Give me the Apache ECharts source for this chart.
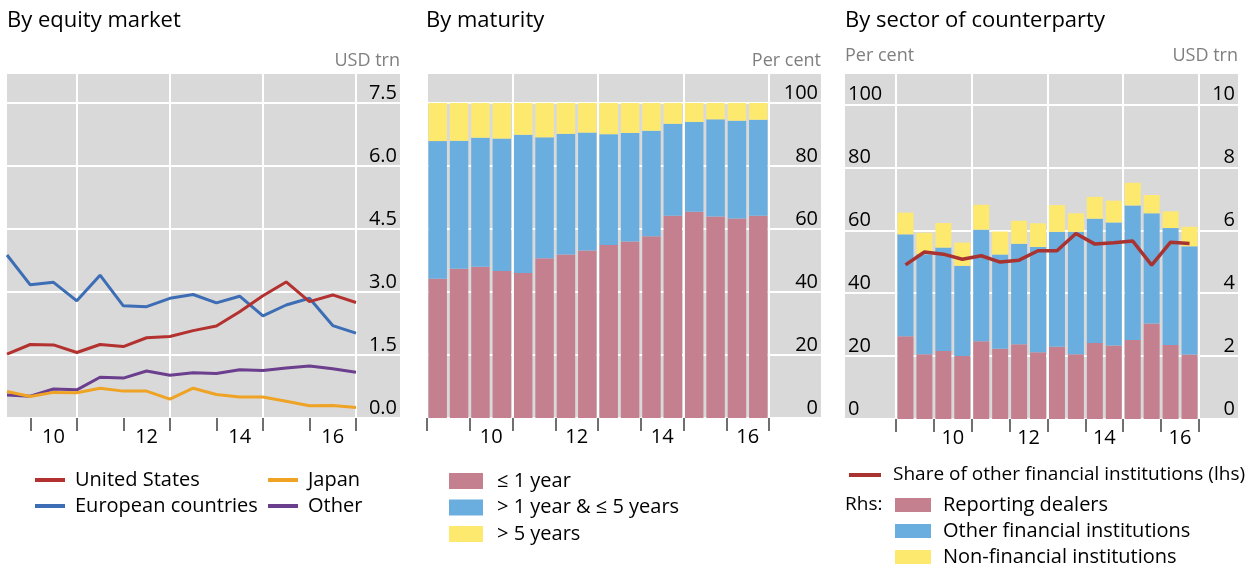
<!DOCTYPE html>
<html>
<head>
<meta charset="utf-8">
<script src="https://cdn.jsdelivr.net/npm/echarts@6/dist/echarts.min.js"></script>
<style>
html, body { margin: 0; padding: 0; background: #fff; }
#chart { width: 1250px; height: 564px; }
</style>
</head>
<body>
<div id="chart"></div>
<script>
// half-year periods, H1 2009 .. H2 2016
var periods = ['H1 2009', 'H2 2009', 'H1 2010', 'H2 2010', 'H1 2011', 'H2 2011', 'H1 2012', 'H2 2012',
               'H1 2013', 'H2 2013', 'H1 2014', 'H2 2014', 'H1 2015', 'H2 2015', 'H1 2016', 'H2 2016'];

// By equity market, USD trn
var usValues     = [1.52, 1.75, 1.74, 1.56, 1.75, 1.70, 1.91, 1.94, 2.08, 2.19, 2.53, 2.91, 3.24, 2.77, 2.93, 2.75];
var europeValues = [3.88, 3.17, 3.23, 2.79, 3.40, 2.67, 2.65, 2.85, 2.94, 2.74, 2.90, 2.43, 2.69, 2.85, 2.20, 2.02];
var japanValues  = [0.63, 0.51, 0.61, 0.60, 0.71, 0.64, 0.64, 0.45, 0.71, 0.56, 0.50, 0.50, 0.40, 0.29, 0.30, 0.25];
var otherValues  = [0.55, 0.52, 0.69, 0.67, 0.97, 0.95, 1.12, 1.02, 1.08, 1.06, 1.15, 1.13, 1.19, 1.24, 1.17, 1.09];

// By maturity, per cent
var upTo1y   = [44.2, 47.4, 48.0, 46.7, 46.0, 50.7, 51.9, 53.2, 54.9, 56.0, 57.7, 64.2, 65.5, 64.0, 63.3, 64.2];
var y1to5    = [43.7, 40.6, 41.0, 42.0, 43.9, 38.4, 38.3, 37.4, 35.2, 34.5, 33.5, 29.2, 28.5, 30.8, 31.1, 30.5];
var over5y   = [12.1, 12.0, 11.0, 11.3, 10.1, 10.9, 9.8, 9.4, 9.9, 9.5, 8.8, 6.6, 6.0, 5.2, 5.6, 5.3];

// By sector of counterparty, USD trn (rhs) and share in per cent (lhs)
var dealers  = [2.63, 2.06, 2.16, 2.00, 2.47, 2.23, 2.38, 2.12, 2.30, 2.06, 2.42, 2.34, 2.51, 3.04, 2.35, 2.05];
var otherFin = [3.24, 3.18, 3.29, 2.87, 3.55, 3.00, 3.19, 3.35, 3.65, 3.89, 3.95, 3.91, 4.28, 3.50, 3.72, 3.44];
var nonFin   = [0.69, 0.68, 0.78, 0.74, 0.79, 0.73, 0.73, 0.75, 0.85, 0.59, 0.69, 0.69, 0.72, 0.58, 0.53, 0.62];
var otherFinShare = [49.0, 53.1, 52.4, 50.8, 51.9, 49.9, 50.5, 53.5, 53.5, 59.0, 55.6, 56.0, 56.6, 48.9, 56.2, 55.8];

// axis ticks
var tickYears  = [2009, 2010, 2011, 2012, 2013, 2014, 2015, 2016, 2017];
var labelYears = [2010, 2012, 2014, 2016];
var gridYears  = [2009, 2011, 2013, 2015, 2017];

var FONT = '"Open Sans", "Noto Sans", sans-serif';

// period end (lines) and mid period (bars) in decimal years
var periodEnd = periods.map(function (p, i) { return 2009.5 + i * 0.5; });
var periodMid = periods.map(function (p, i) { return 2009.25 + i * 0.5; });

function pairs(xs, ys) {
    return ys.map(function (v, i) { return [xs[i], v]; });
}
// value first, so that the stack runs on the value dimension
function barPairs(xs, ys) {
    return ys.map(function (v, i) { return [v, xs[i]]; });
}

function xAxes(gridIndex, min, max) {
    return [{
        type: 'value', gridIndex: gridIndex, min: min, max: max, offset: 3,
        axisLine: { show: false },
        axisTick: { show: true, customValues: tickYears, length: 13, lineStyle: { color: '#404040', width: 1.5 } },
        axisLabel: {
            customValues: labelYears.map(function (y) { return y + 0.5; }),
            formatter: function (v) { return String(Math.floor(v) % 100); },
            color: '#000', fontSize: 20, fontFamily: FONT, margin: 6
        },
        splitLine: { show: false }
    }, {
        type: 'value', gridIndex: gridIndex, min: min, max: max,
        axisLine: { show: false },
        axisTick: { show: false, customValues: gridYears },
        axisLabel: { show: false },
        splitLine: { show: true, lineStyle: { color: '#fff', width: 2 } }
    }];
}

function yAxis(gridIndex, max, interval, side, digits, name, grid, gap) {
    return {
        type: 'value', gridIndex: gridIndex, min: 0, max: max, interval: interval, position: side,
        name: name, nameLocation: 'end', nameGap: gap,
        nameTextStyle: { color: '#7f7f7f', fontSize: 18, fontFamily: FONT, align: side, verticalAlign: 'bottom' },
        axisLine: { show: false },
        axisTick: { show: false },
        axisLabel: {
            inside: true, margin: 3, verticalAlign: 'bottom', color: '#000', fontSize: 20, fontFamily: FONT,
            formatter: function (v) {
                var k = v / interval;
                return Math.abs(k - Math.round(k)) < 1e-6 ? v.toFixed(digits) : '';
            }
        },
        splitLine: { show: grid, lineStyle: { color: '#fff', width: 2 } }
    };
}

function legendStyle(size, pad) {
    return { fontSize: size, fontFamily: FONT, color: '#000', lineHeight: 20, padding: [0, 0, 0, pad] };
}
function titleStyle(size) {
    return { fontSize: size, fontWeight: 'normal', color: '#000', fontFamily: FONT, lineHeight: size + 2 };
}

var chart = echarts.init(document.getElementById('chart'));
var option = {
    animation: false,
    textStyle: { fontFamily: FONT },
    title: [
        { text: 'By equity market', left: 7, top: 9, padding: 0, textStyle: titleStyle(22) },
        { text: 'By maturity', left: 426, top: 9, padding: 0, textStyle: titleStyle(22) },
        { text: 'By sector of counterparty', left: 845, top: 9, padding: 0, textStyle: titleStyle(22) },
        { text: 'Rhs:', left: 845, top: 494, padding: 0, textStyle: titleStyle(19) }
    ],
    legend: [
        { left: 35, top: 470, orient: 'vertical', padding: 0, selectedMode: false, icon: 'rect', itemWidth: 30, itemHeight: 4, itemGap: 6,
          data: ['United States', 'European countries'], textStyle: legendStyle(20, 5) },
        { left: 268, top: 470, orient: 'vertical', padding: 0, selectedMode: false, icon: 'rect', itemWidth: 30, itemHeight: 4, itemGap: 6,
          data: ['Japan', 'Other'], textStyle: legendStyle(20, 5) },
        { left: 449, top: 471, orient: 'vertical', padding: 0, selectedMode: false, icon: 'rect', itemWidth: 34, itemHeight: 16, itemGap: 6.5,
          data: ['≤ 1 year', '> 1 year & ≤ 5 years', '> 5 years'], textStyle: legendStyle(20, 9) },
        { left: 849, top: 465, orient: 'vertical', padding: 0, selectedMode: false, icon: 'rect', itemWidth: 32, itemHeight: 4,
          data: ['Share of other financial institutions (lhs)'], textStyle: legendStyle(19, 7) },
        { left: 895, top: 495, height: 100, orient: 'vertical', padding: 0, selectedMode: false, icon: 'rect', itemWidth: 36, itemHeight: 14, itemGap: 6,
          data: ['Reporting dealers', 'Other financial institutions', 'Non-financial institutions'], textStyle: legendStyle(20, 7) }
    ],
    grid: [
        { left: 7, top: 73, width: 393, height: 345, show: true, backgroundColor: '#d9d9d9', borderWidth: 0 },
        { left: 427, top: 73, width: 394, height: 345, show: true, backgroundColor: '#d9d9d9', borderWidth: 0 },
        { left: 845, top: 73, width: 393, height: 346, show: true, backgroundColor: '#d9d9d9', borderWidth: 0 }
    ],
    xAxis: [].concat(
        xAxes(0, 2009.5, 2017.946),
        xAxes(1, 2009, 2018.216),
        xAxes(2, 2007.653, 2018.03)
    ),
    yAxis: [
        yAxis(0, 8.214, 1.5, 'right', 1, 'USD trn', true, 3),
        yAxis(1, 109.52, 20, 'right', 0, 'Per cent', true, 3),
        yAxis(2, 110, 20, 'left', 0, 'Per cent', true, 8),
        yAxis(2, 11, 2, 'right', 0, 'USD trn', false, 8)
    ],
    series: [
        { name: 'Other', type: 'line', xAxisIndex: 0, yAxisIndex: 0, showSymbol: false, color: '#6b3e8e',
          lineStyle: { width: 3 }, data: pairs(periodEnd, otherValues) },
        { name: 'European countries', type: 'line', xAxisIndex: 0, yAxisIndex: 0, showSymbol: false, color: '#3d6db5',
          lineStyle: { width: 3 }, data: pairs(periodEnd, europeValues) },
        { name: 'United States', type: 'line', xAxisIndex: 0, yAxisIndex: 0, showSymbol: false, color: '#b3312f',
          lineStyle: { width: 3 }, data: pairs(periodEnd, usValues) },
        { name: 'Japan', type: 'line', xAxisIndex: 0, yAxisIndex: 0, showSymbol: false, color: '#efa325',
          lineStyle: { width: 3 }, data: pairs(periodEnd, japanValues) },

        { name: '≤ 1 year', type: 'bar', stack: 'maturity', xAxisIndex: 2, yAxisIndex: 1, barWidth: 18.5, color: '#c4808f',
          encode: { x: 1, y: 0 }, data: barPairs(periodMid, upTo1y) },
        { name: '> 1 year & ≤ 5 years', type: 'bar', stack: 'maturity', xAxisIndex: 2, yAxisIndex: 1, barWidth: 18.5, color: '#6aaddf',
          encode: { x: 1, y: 0 }, data: barPairs(periodMid, y1to5) },
        { name: '> 5 years', type: 'bar', stack: 'maturity', xAxisIndex: 2, yAxisIndex: 1, barWidth: 18.5, color: '#fee96f',
          encode: { x: 1, y: 0 }, data: barPairs(periodMid, over5y) },

        { name: 'Reporting dealers', type: 'bar', stack: 'sector', xAxisIndex: 4, yAxisIndex: 3, barWidth: 16, color: '#c4808f',
          encode: { x: 1, y: 0 }, data: barPairs(periodMid, dealers) },
        { name: 'Other financial institutions', type: 'bar', stack: 'sector', xAxisIndex: 4, yAxisIndex: 3, barWidth: 16, color: '#6aaddf',
          encode: { x: 1, y: 0 }, data: barPairs(periodMid, otherFin) },
        { name: 'Non-financial institutions', type: 'bar', stack: 'sector', xAxisIndex: 4, yAxisIndex: 3, barWidth: 16, color: '#fee96f',
          encode: { x: 1, y: 0 }, data: barPairs(periodMid, nonFin) },
        { name: 'Share of other financial institutions (lhs)', type: 'line', xAxisIndex: 4, yAxisIndex: 2, showSymbol: false,
          color: '#a93331', z: 5, lineStyle: { width: 3.5 }, data: pairs(periodMid, otherFinShare) }
    ]
};
chart.setOption(option);
</script>
</body>
</html>
